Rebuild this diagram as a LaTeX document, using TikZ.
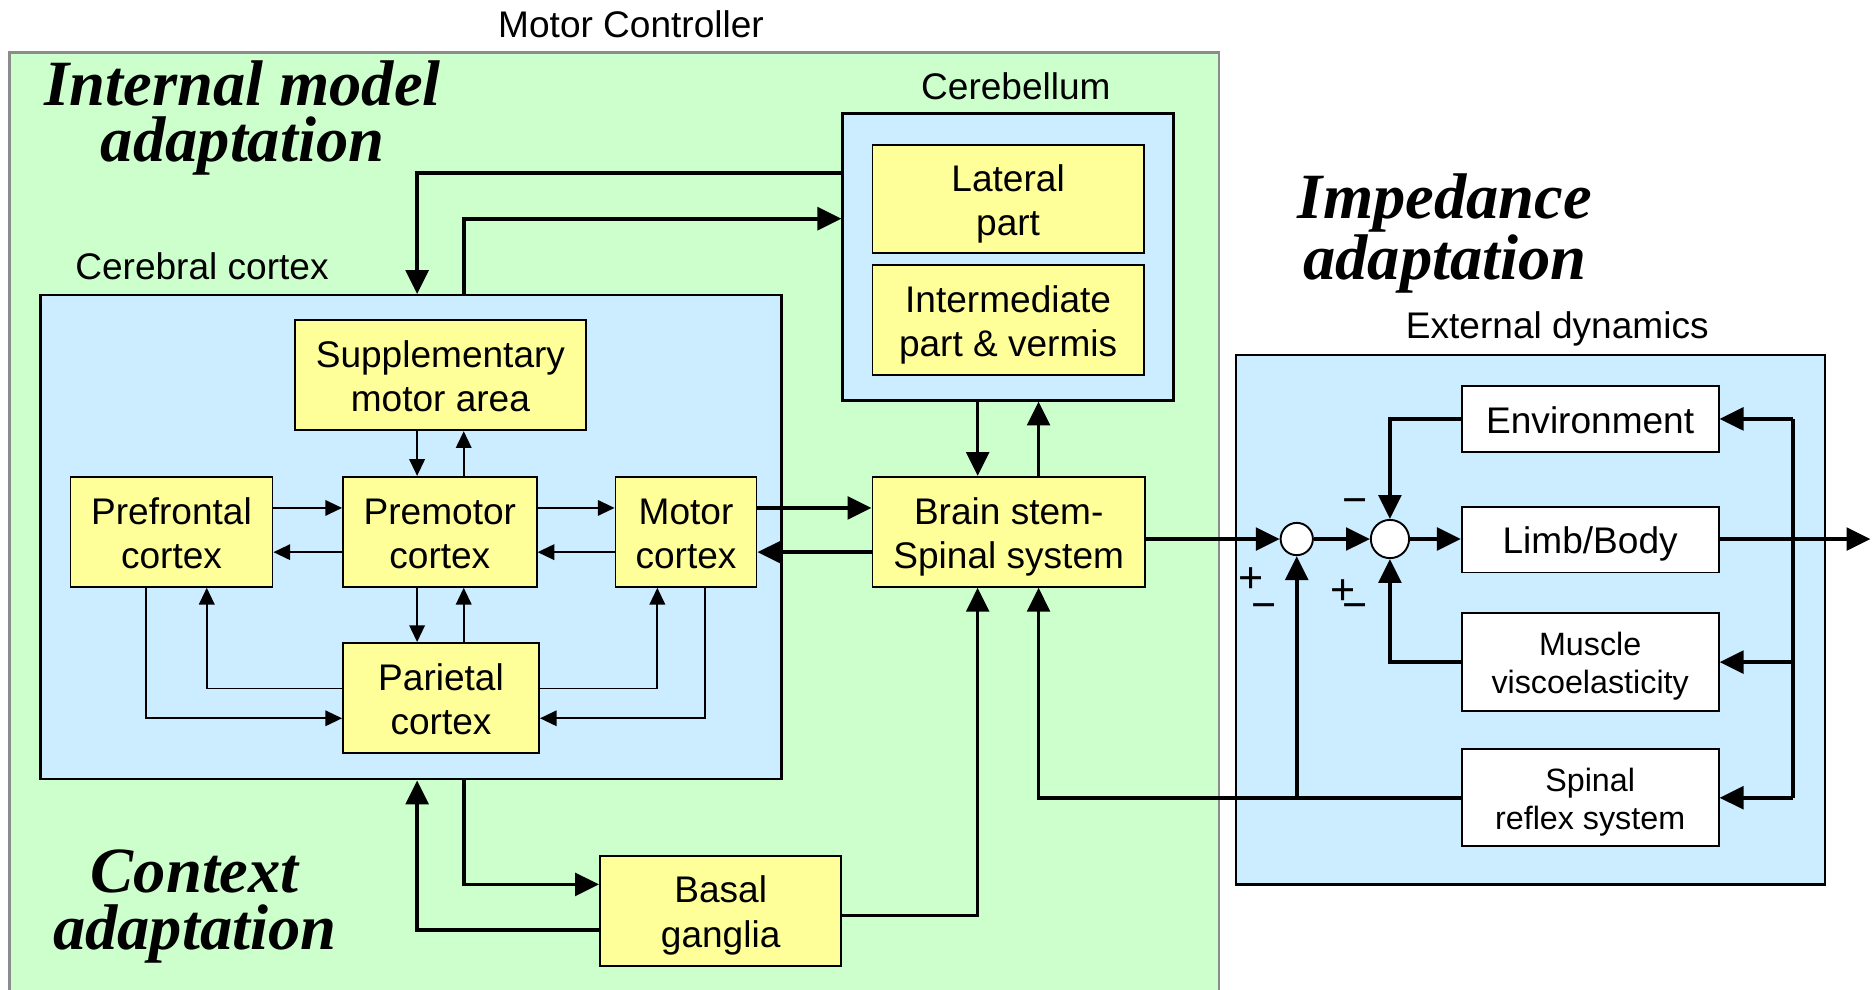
\documentclass[tikz,border=0pt]{standalone}
\usepackage{fontspec}
\setmainfont{Liberation Sans}
\newfontfamily\headfont{Liberation Serif}
\usetikzlibrary{arrows.meta,calc}

\definecolor{bggreen}{HTML}{CCFFCC}
\definecolor{bgblue}{HTML}{CCECFF}
\definecolor{boxyellow}{HTML}{FFFF99}

% invisible rule giving a box line the full ascent and descent of the font
\newcommand\bs{\rule[-0.212em]{0pt}{1.2em}}

\begin{document}
\begin{tikzpicture}[x=0.5pt,y=-0.5pt,
  sz/.style 2 args={minimum width=#1*0.5pt,minimum height=#2*0.5pt},
  lbl/.style={font=\fontsize{15.5}{18.5}\selectfont},
  region/.style={draw=black,line width=1pt,fill=bgblue,inner sep=0pt},
  boxtext/.style={align=center,inner sep=0pt,execute at end node=\bs},
  ybox/.style={draw=black,line width=0.8pt,fill=boxyellow,boxtext,
    font=\fontsize{15.5}{18.5}\selectfont},
  wbox/.style={draw=black,line width=0.8pt,fill=white,boxtext,
    font=\fontsize{15.5}{18.5}\selectfont},
  smalltext/.style={font=\fontsize{13.5}{16}\selectfont},
  heading/.style={font=\headfont\bfseries\itshape\fontsize{27}{23.5}\selectfont,align=center},
  sumpt/.style={circle,draw=black,line width=0.8pt,fill=white,inner sep=0pt},
  sign/.style={font=\fontsize{18}{18}\selectfont,inner sep=0pt},
  thk/.style={line width=1.5pt,-{Triangle[length=10pt,width=9.5pt]}},
  thkplain/.style={line width=1.5pt},
  thn/.style={line width=0.75pt,-{Triangle[length=7pt,width=6.5pt]}}
]
\useasboundingbox (0,0) rectangle (1568,828);

% motor controller area
\fill[bggreen] (8,44) rectangle (1020,830);
\draw[black!45,line width=1pt] (8,830) -- (8,44) -- (1020,44) -- (1020,830);
\node[lbl] (mctitle) at (528,20) {Motor Controller};

% routing columns and rows
\coordinate (colA) at (349,0);
\coordinate (colB) at (388,0);
\coordinate (colC) at (818,0);
\coordinate (colD) at (869,0);
\coordinate (colE) at (173,0);
\coordinate (colF) at (122,0);
\coordinate (colG) at (550,0);
\coordinate (colH) at (590,0);
\coordinate (fbcol) at (1500,0);
\coordinate (rowTa) at (0,145);
\coordinate (rowTb) at (0,183);
\coordinate (rowU) at (0,425);
\coordinate (rowL) at (0,462);
\coordinate (rowPa) at (0,576);
\coordinate (rowPb) at (0,601);
\coordinate (rowBa) at (0,740);
\coordinate (rowBb) at (0,778);
\coordinate (rowBc) at (0,766);
\coordinate (outEnd) at (1565,451);

% cerebellum
\node[lbl] (cbltitle) at (850,72) {Cerebellum};
\node[region,sz={277}{240}] (cbl) at (843.5,215) {};
\node[ybox,sz={227}{91}] (lat) at (843.5,166.5) {\bs Lateral\\part};
\node[ybox,sz={227}{92}] (inter) at (843.5,268) {\bs Intermediate\\part \& vermis};

% cerebral cortex
\node[lbl] (cctitle) at (169,223) {Cerebral cortex};
\node[region,sz={620}{405}] (cortex) at (344,449.5) {};
\node[ybox,sz={243}{92}] (sma) at (368.5,314) {\bs Supplementary\\motor area};
\node[ybox,sz={169}{92}] (pf) at (143.5,445) {\bs Prefrontal\\cortex};
\node[ybox,sz={162}{92}] (pm) at (368,445) {\bs Premotor\\cortex};
\node[ybox,sz={118}{92}] (motor) at (574,445) {\bs Motor\\cortex};
\node[ybox,sz={164}{92}] (par) at (369,584) {\bs Parietal\\cortex};

% brain stem and basal ganglia
\node[ybox,sz={228}{92}] (bstem) at (844,445) {\bs Brain stem-\\Spinal system};
\node[ybox,sz={202}{92}] (bg) at (603,762) {\bs Basal\\ganglia};

% external dynamics
\node[lbl] (extitle) at (1303,275) {External dynamics};
\node[region,sz={493}{443}] (ext) at (1280.5,518.5) {};
\node[wbox,sz={215}{55}] (env) at (1330.5,350.5) {\bs Environment};
\node[wbox,sz={215}{55}] (limb) at (1330.5,451.5) {\bs Limb/Body};
\node[wbox,smalltext,sz={215}{82}] (musc) at (1330.5,554) {\bs Muscle\\viscoelasticity};
\node[wbox,smalltext,sz={215}{81}] (spin) at (1330.5,667.5) {\bs Spinal\\reflex system};
\node[sumpt,minimum size=13.5pt] (s1) at (1085,451) {};
\node[sumpt,minimum size=16pt] (s2) at (1163,451) {};

% signs at the summing points
\node[sign] (p1) at (1047,485) {+};
\node[sign] (m1) at (1057.5,512) {−};
\node[sign] (p2) at (1123.5,495) {+};
\node[sign] (m2) at (1133.5,512) {−};
\node[sign] (m3) at (1133.5,424) {−};

% adaptation headings
\node[heading] (himd) at (203,99) {Internal model\\adaptation};
\node[heading] (hctx) at (163,758.5) {Context\\adaptation};
\node[heading] (himp) at (1209,195.5) {Impedance\\adaptation};

% links inside the cerebral cortex
\draw[thn] (sma.south -| colA) -- (pm.north -| colA);
\draw[thn] (pm.north -| colB) -- (sma.south -| colB);
\draw[thn] (pf.east |- rowU) -- (pm.west |- rowU);
\draw[thn] (pm.west |- rowL) -- (pf.east |- rowL);
\draw[thn] (pm.east |- rowU) -- (motor.west |- rowU);
\draw[thn] (motor.west |- rowL) -- (pm.east |- rowL);
\draw[thn] (pm.south -| colA) -- (par.north -| colA);
\draw[thn] (par.north -| colB) -- (pm.south -| colB);
\draw[thn] (par.west |- rowPa) -| (pf.south -| colE);
\draw[thn] (pf.south -| colF) |- (par.west |- rowPb);
\draw[thn] (par.east |- rowPa) -| (motor.south -| colG);
\draw[thn] (motor.south -| colH) |- (par.east |- rowPb);

% cerebellum loops
\draw[thk] (cbl.west |- rowTa) -| (cortex.north -| colA);
\draw[thk] (cortex.north -| colB) |- (cbl.west |- rowTb);
\draw[thk] (cbl.south -| colC) -- (bstem.north -| colC);
\draw[thk] (bstem.north -| colD) -- (cbl.south -| colD);

% motor cortex and brain stem
\draw[thk] (motor.east |- rowU) -- (bstem.west |- rowU);
\draw[thk] (bstem.west |- rowL) -- (motor.east |- rowL);

% basal ganglia loop
\draw[thk] (cortex.south -| colB) |- (bg.west |- rowBa);
\draw[thk] (bg.west |- rowBb) -| (cortex.south -| colA);
\draw[thk] (bg.east |- rowBc) -| (bstem.south -| colC);

% forward path to the body
\draw[thk] (bstem.east |- s1.west) -- (s1.west);
\draw[thk] (s1.east) -- (s2.west);
\draw[thk] (s2.east) -- (limb.west |- s2.east);
\draw[thk] (limb.east |- s2.east) -- (outEnd);

% feedback paths
\draw[thkplain] (fbcol |- env.east) -- (fbcol |- spin.east);
\draw[thk] (fbcol |- env.east) -- (env.east);
\draw[thk] (fbcol |- musc.east) -- (musc.east);
\draw[thk] (fbcol |- spin.east) -- (spin.east);
\draw[thk] (env.west) -| (s2.north);
\draw[thk] (musc.west) -| (s2.south);
\draw[thk] (spin.west) -| (bstem.south -| colD);
\draw[thk] (spin.west -| s1.south) -- (s1.south);
\end{tikzpicture}
\end{document}
